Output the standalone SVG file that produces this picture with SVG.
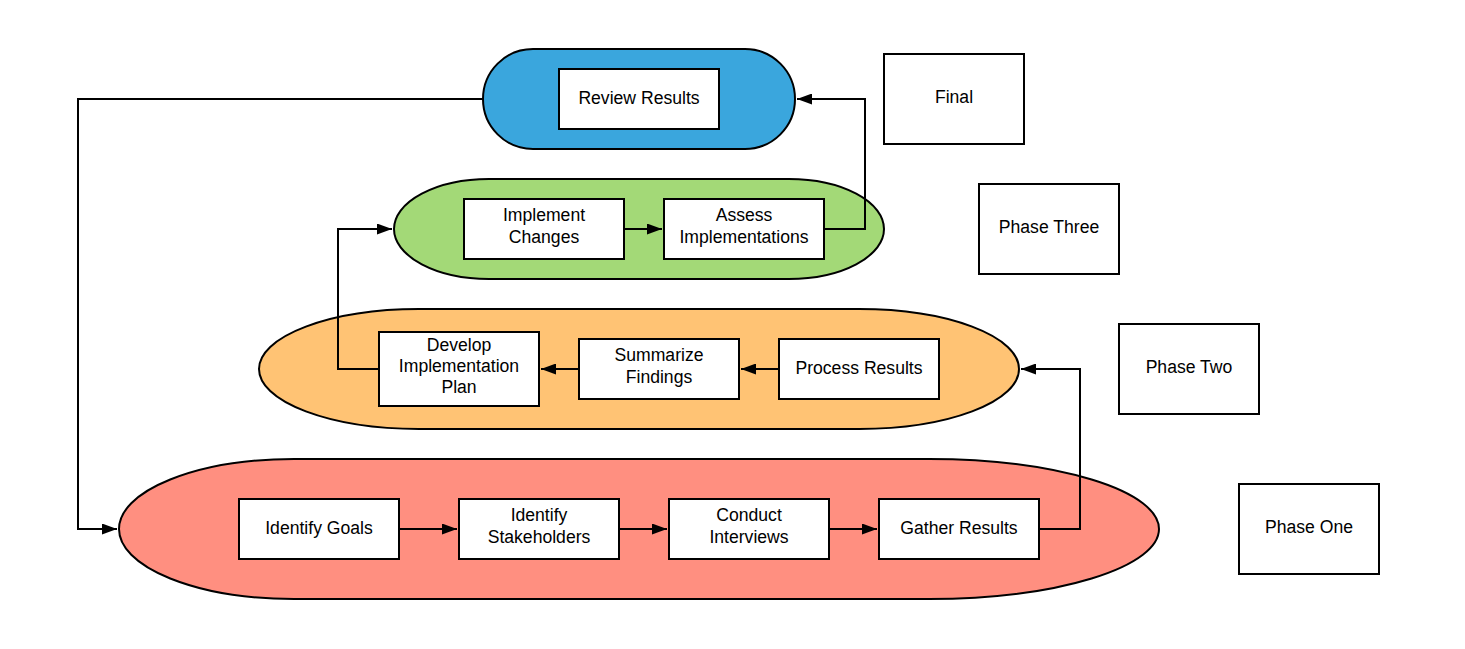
<svg xmlns="http://www.w3.org/2000/svg" width="1465" height="649" viewBox="0 0 1465 649">
<defs>
<style>
.box{fill:#fff;stroke:#000;stroke-width:2}
.phase{stroke:#000;stroke-width:2}
.t{font-family:"Liberation Sans",Arial,sans-serif;font-size:17.6px;fill:#000;text-anchor:middle}
.c{fill:none;stroke:#000;stroke-width:2}
</style>
<marker id="ah" markerUnits="userSpaceOnUse" markerWidth="15" markerHeight="11" refX="15" refY="5.5" orient="auto">
<path d="M0,0 L15,5.5 L0,11 Z" fill="#000"/>
</marker>
</defs>
<rect width="1465" height="649" fill="#fff"/>
<g id="phase-one-shape"><path class="phase" fill="#ff8f80" d="M294,459 H929 A230,70 0 0 1 929,599 H294 A175,70 0 0 1 294,459 Z"/></g>
<g id="phase-two-shape"><path class="phase" fill="#ffc374" d="M419,309 H859 A160,60 0 0 1 859,429 H419 A160,60 0 0 1 419,309 Z"/></g>
<g id="phase-three-shape"><path class="phase" fill="#a3d977" d="M489,179 H789 A95,50 0 0 1 789,279 H489 A95,50 0 0 1 489,179 Z"/></g>
<g id="final-shape"><path class="phase" fill="#3aa6dd" d="M533,49 H745 A50,50 0 0 1 745,149 H533 A50,50 0 0 1 533,49 Z"/></g>

<g id="connectors">
<path class="c" d="M483,99 H78 V529 H117" marker-end="url(#ah)"/>
<path class="c" d="M824,229 H865 V99 H797" marker-end="url(#ah)"/>
<path class="c" d="M624,229 H662" marker-end="url(#ah)"/>
<path class="c" d="M379,369 H338 V229 H392" marker-end="url(#ah)"/>
<path class="c" d="M779,369 H741" marker-end="url(#ah)"/>
<path class="c" d="M579,369 H541" marker-end="url(#ah)"/>
<path class="c" d="M1039,529 H1080 V369 H1021" marker-end="url(#ah)"/>
<path class="c" d="M399,529 H457" marker-end="url(#ah)"/>
<path class="c" d="M619,529 H667" marker-end="url(#ah)"/>
<path class="c" d="M829,529 H877" marker-end="url(#ah)"/>
</g>

<g id="review-results"><rect class="box" x="559" y="69" width="160" height="60"/><text class="t" x="639" y="104">Review Results</text></g>
<g id="implement-changes"><rect class="box" x="464" y="199" width="160" height="60"/><text class="t" x="544" y="221">Implement</text><text class="t" x="544" y="243">Changes</text></g>
<g id="assess-implementations"><rect class="box" x="664" y="199" width="160" height="60"/><text class="t" x="744" y="221">Assess</text><text class="t" x="744" y="243">Implementations</text></g>
<g id="develop-plan"><rect class="box" x="379" y="332" width="160" height="74"/><text class="t" x="459" y="351">Develop</text><text class="t" x="459" y="372">Implementation</text><text class="t" x="459" y="393">Plan</text></g>
<g id="summarize-findings"><rect class="box" x="579" y="339" width="160" height="60"/><text class="t" x="659" y="361">Summarize</text><text class="t" x="659" y="383">Findings</text></g>
<g id="process-results"><rect class="box" x="779" y="339" width="160" height="60"/><text class="t" x="859" y="374">Process Results</text></g>
<g id="identify-goals"><rect class="box" x="239" y="499" width="160" height="60"/><text class="t" x="319" y="534">Identify Goals</text></g>
<g id="identify-stakeholders"><rect class="box" x="459" y="499" width="160" height="60"/><text class="t" x="539" y="521">Identify</text><text class="t" x="539" y="543">Stakeholders</text></g>
<g id="conduct-interviews"><rect class="box" x="669" y="499" width="160" height="60"/><text class="t" x="749" y="521">Conduct</text><text class="t" x="749" y="543">Interviews</text></g>
<g id="gather-results"><rect class="box" x="879" y="499" width="160" height="60"/><text class="t" x="959" y="534">Gather Results</text></g>

<g id="label-final"><rect class="box" x="884" y="54" width="140" height="90"/><text class="t" x="954" y="103">Final</text></g>
<g id="label-phase-three"><rect class="box" x="979" y="184" width="140" height="90"/><text class="t" x="1049" y="233">Phase Three</text></g>
<g id="label-phase-two"><rect class="box" x="1119" y="324" width="140" height="90"/><text class="t" x="1189" y="373">Phase Two</text></g>
<g id="label-phase-one"><rect class="box" x="1239" y="484" width="140" height="90"/><text class="t" x="1309" y="533">Phase One</text></g>
</svg>
